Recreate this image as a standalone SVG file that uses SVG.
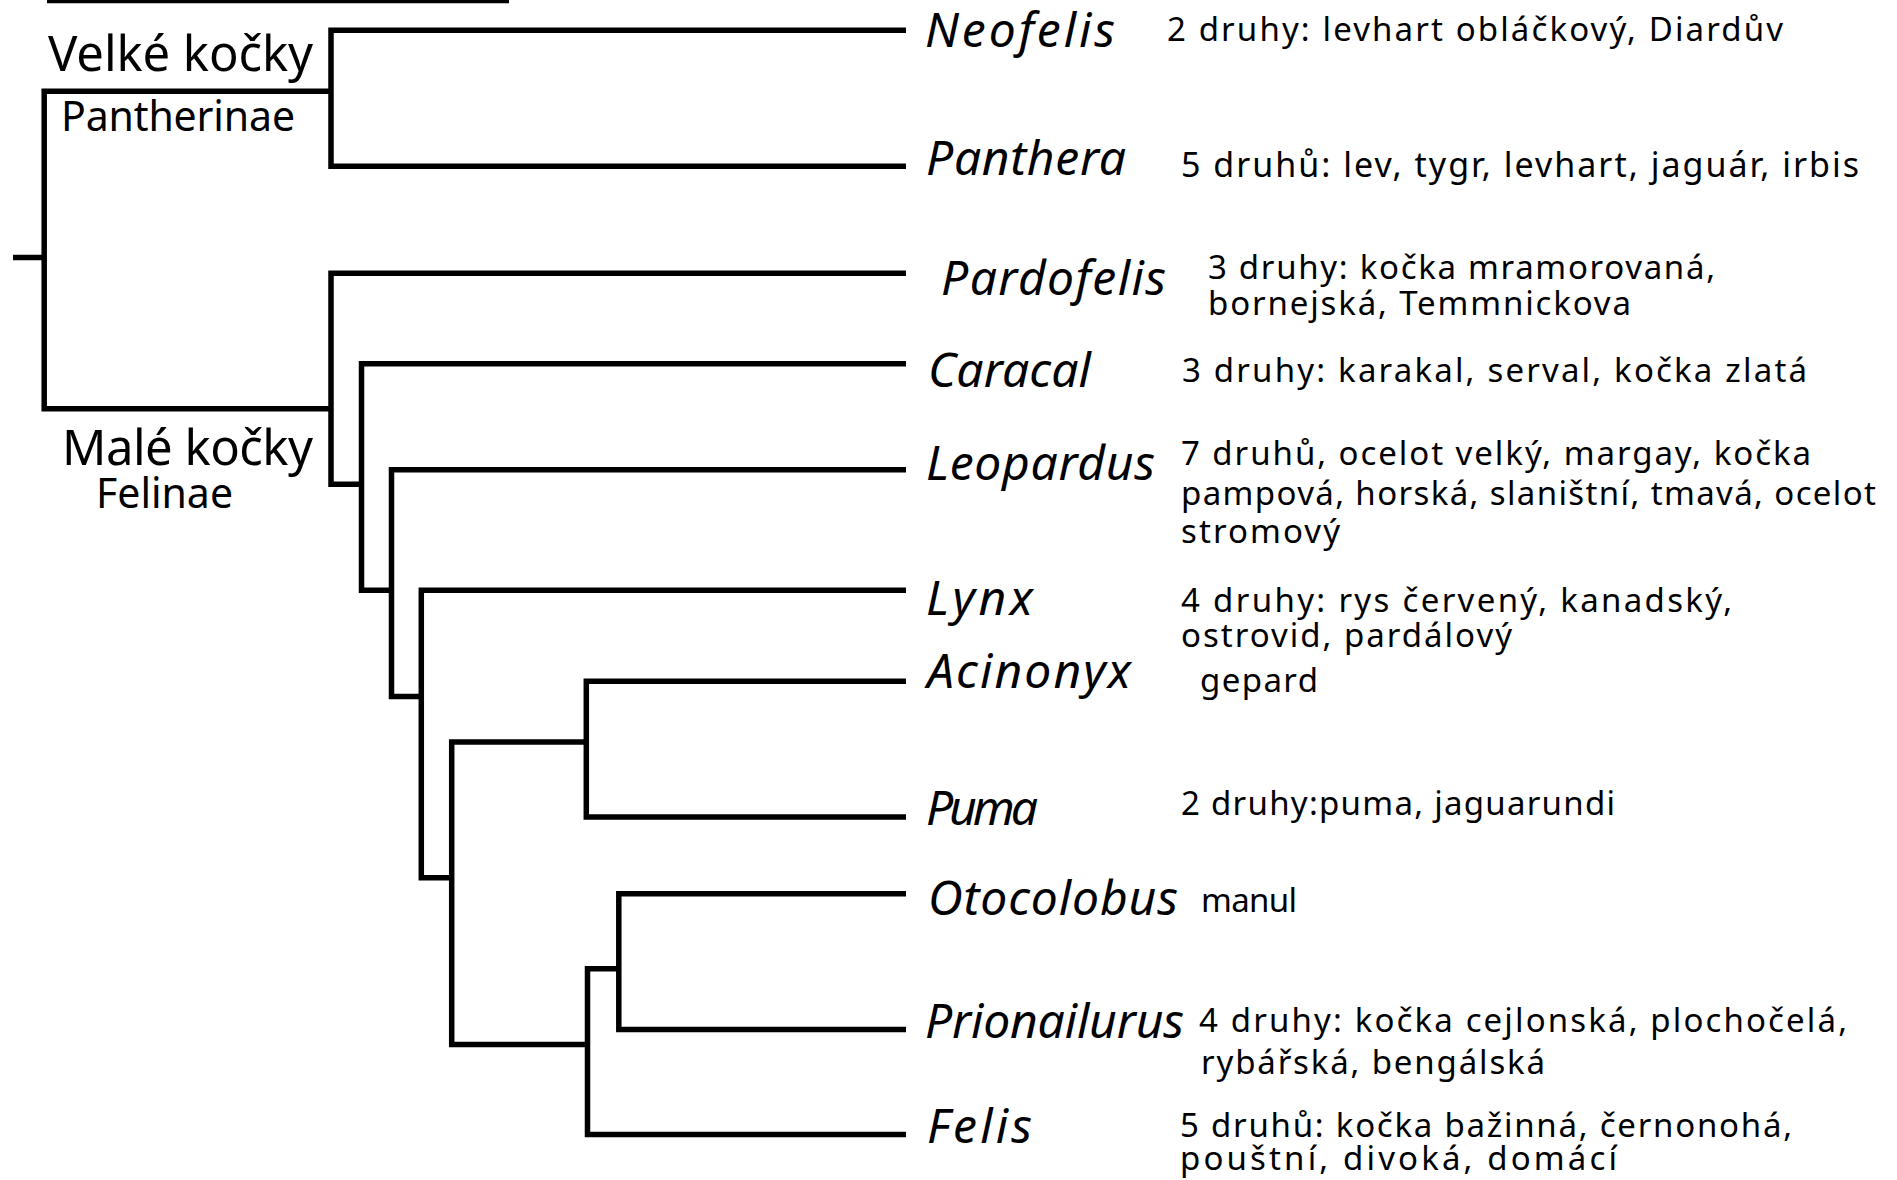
<svg xmlns="http://www.w3.org/2000/svg" width="1897" height="1180" viewBox="0 0 1897 1180">
<style>
  .ln { fill: none; stroke: #000; stroke-width: 5.5; stroke-linejoin: miter; stroke-linecap: butt; }
  text { font-family: "Noto Sans", "DejaVu Sans", sans-serif; fill: #000; }
  .genus { font-size: 48px; font-style: italic; }
  .desc { font-size: 33px; }
  .clade { font-size: 49px; }
  .sub { font-size: 41px; }
</style>
<rect width="1897" height="1180" fill="#fff"/>
<path class="ln" d="M47,0.5 H509" stroke-width="6"/>
<g id="connectors">
  <path class="ln" d="M13,257.5 H44.2"/>
  <path class="ln" d="M331,91.2 H44.2 V408.8 H331"/>
  <path class="ln" d="M906,30.3 H331 V166.2 H906"/>
  <path class="ln" d="M906,273.3 H331 V484.2 H361.5"/>
  <path class="ln" d="M906,363.8 H361.5 V590.3 H391.5"/>
  <path class="ln" d="M906,469.7 H391.5 V696.5 H421.3"/>
  <path class="ln" d="M906,590.3 H421.3 V877.8 H451.7"/>
  <path class="ln" d="M586.3,742 H451.7 V1044.5 H587.5"/>
  <path class="ln" d="M906,681.2 H586.3 V817 H906"/>
  <path class="ln" d="M618.8,968.8 H587.5 V1134.5 H906"/>
  <path class="ln" d="M906,893.7 H618.8 V1029.5 H906"/>
</g>
<g id="pantherinae">
  <text class="clade" x="48" y="70.7" textLength="265">Velké kočky</text>
  <text class="sub" x="61" y="131" textLength="234">Pantherinae</text>
</g>
<g id="felinae">
  <text class="clade" x="62" y="465" textLength="251">Malé kočky</text>
  <text class="sub" x="96" y="508.3" textLength="137">Felinae</text>
</g>
<g id="neofelis">
  <text class="genus" x="925" y="46.7" textLength="190">Neofelis</text>
  <text class="desc" x="1167" y="40.7" textLength="616">2 druhy: levhart obláčkový, Diardův</text>
</g>
<g id="panthera">
  <text class="genus" x="926" y="175" textLength="200">Panthera</text>
  <text class="desc" x="1181" y="176.7" textLength="678" style="font-size:34px">5 druhů: lev, tygr, levhart, jaguár, irbis</text>
</g>
<g id="pardofelis">
  <text class="genus" x="941" y="295" textLength="225">Pardofelis</text>
  <text class="desc" x="1208" y="279.3" textLength="507">3 druhy: kočka mramorovaná,</text>
  <text class="desc" x="1208" y="315" textLength="423">bornejská, Temmnickova</text>
</g>
<g id="caracal">
  <text class="genus" x="928" y="386.7" textLength="163">Caracal</text>
  <text class="desc" x="1182" y="381.7" textLength="625">3 druhy: karakal, serval, kočka zlatá</text>
</g>
<g id="leopardus">
  <text class="genus" x="926" y="480" textLength="229">Leopardus</text>
  <text class="desc" x="1181" y="465" textLength="630">7 druhů, ocelot velký, margay, kočka</text>
  <text class="desc" x="1181" y="505" textLength="695">pampová, horská, slaništní, tmavá, ocelot</text>
  <text class="desc" x="1181" y="543.3" textLength="159">stromový</text>
</g>
<g id="lynx">
  <text class="genus" x="926" y="615" textLength="107">Lynx</text>
  <text class="desc" x="1181" y="611.7" textLength="551">4 druhy: rys červený, kanadský,</text>
  <text class="desc" x="1181" y="646.7" textLength="331">ostrovid, pardálový</text>
</g>
<g id="acinonyx">
  <text class="genus" x="927" y="688" textLength="204">Acinonyx</text>
  <text class="desc" x="1200" y="691.7" textLength="118">gepard</text>
</g>
<g id="puma">
  <text class="genus" x="926" y="825" textLength="112">Puma</text>
  <text class="desc" x="1181" y="815" textLength="434">2 druhy:puma, jaguarundi</text>
</g>
<g id="otocolobus">
  <text class="genus" x="928" y="915" textLength="250">Otocolobus</text>
  <text class="desc" x="1201" y="911.7" textLength="96">manul</text>
</g>
<g id="prionailurus">
  <text class="genus" x="925" y="1038" textLength="259">Prionailurus</text>
  <text class="desc" x="1199" y="1032" textLength="648">4 druhy: kočka cejlonská, plochočelá,</text>
  <text class="desc" x="1201" y="1074" textLength="344">rybářská, bengálská</text>
</g>
<g id="felis">
  <text class="genus" x="927" y="1143" textLength="105">Felis</text>
  <text class="desc" x="1180" y="1137" textLength="612">5 druhů: kočka bažinná, černonohá,</text>
  <text class="desc" x="1180" y="1170" textLength="437">pouštní, divoká, domácí</text>
</g>
</svg>
